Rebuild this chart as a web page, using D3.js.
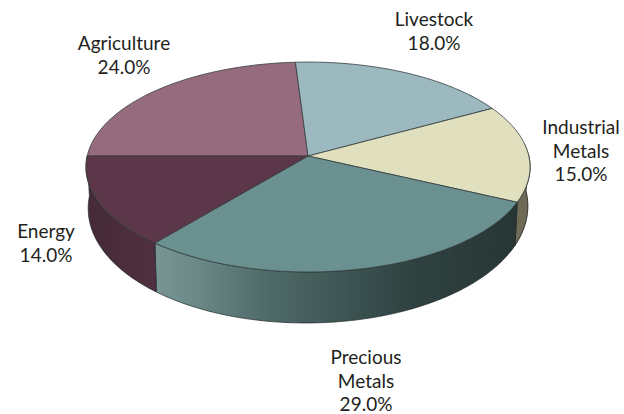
<!DOCTYPE html>
<html><head><meta charset="utf-8">
<script src="https://cdn.jsdelivr.net/npm/d3@7"></script>
<style>html,body{margin:0;padding:0;background:#fff}svg{display:block}</style></head>
<body><svg width="624" height="414"></svg>
<script>
const categories = ["Agriculture","Livestock","Industrial Metals","Precious Metals","Energy"];
const values = [24,18,15,29,14];
const labelLines = [["Agriculture"],["Livestock"],["Industrial","Metals"],["Precious","Metals"],["Energy"]];
const topColors = ["#966b7e","#9db9c0","#e0dfbe","#6b9090","#5c3749"];
const sideColors = ["#966b7e","#9db9c0","#6e6a55","#4a6462","#4b2d3c"];
const labelPos = [[124,50],[434,26],[581,134],[366,364],[46,238]];

const svg = d3.select("svg");
const cx=308, cy=156, A=220.8, B=103.8, K=0.105;
const top3d = a => { const u=Math.sin(a), v=-Math.cos(a), w=1-K*v;
  return [cx+A*u/w, cy+B*v/w]; };
const bot3d = a => { const u=Math.sin(a), v=-Math.cos(a), p=top3d(a);
  return [cx+(p[0]-cx)*0.99, p[1]+39+12*v-1.2*u]; };
const line = d3.line();
const sample = (a0,a1) => { const n=Math.max(2,Math.ceil(Math.abs(a1-a0)/0.015)); return d3.range(n+1).map(i=>a0+(a1-a0)*i/n); };

const pie = d3.pie().sort(null).value(d=>d).startAngle(-Math.PI/2).endAngle(1.5*Math.PI);
const arcs = pie(values);
const defs = svg.append("defs");
const g = defs.append("linearGradient").attr("id","pm").attr("gradientUnits","userSpaceOnUse")
  .attr("x1",155).attr("x2",520).attr("y1",0).attr("y2",0);
[[0,"#789593"],[0.12,"#6a8886"],[0.3,"#506b69"],[0.5,"#3f5755"],[0.7,"#2f4241"],[1,"#263634"]]
  .forEach(s=>g.append("stop").attr("offset",s[0]).attr("stop-color",s[1]));
const g2 = defs.append("linearGradient").attr("id","en").attr("gradientUnits","userSpaceOnUse")
  .attr("x1",86).attr("x2",157).attr("y1",0).attr("y2",0);
[[0,"#452a37"],[0.5,"#4b2d3c"],[1,"#4f3040"]].forEach(s=>g2.append("stop").attr("offset",s[0]).attr("stop-color",s[1]));

// side walls: only the front part of the rim is visible
const visStart = Math.PI/2 - 0.02, visEnd = 1.5*Math.PI + 0.10;
arcs.forEach((d,i)=>{
  const s=Math.max(d.startAngle,visStart), e=Math.min(d.endAngle,visEnd);
  if(e<=s) return;
  const ang=sample(s,e);
  const pts=ang.map(top3d).concat(ang.slice().reverse().map(bot3d));
  svg.append("path").attr("d",line(pts)+"Z")
    .attr("fill",i===3?"url(#pm)":i===4?"url(#en)":sideColors[i])
    .attr("stroke","#1f2a2a").attr("stroke-width",0.7).attr("stroke-linejoin","round");
});
// extend right wall to the silhouette
{
  const ang=sample(Math.PI/2-0.12,Math.PI/2+0.5);
  svg.insert("path",":first-child").attr("d",line(ang.map(top3d).concat(ang.slice().reverse().map(bot3d)))+"Z")
    .attr("fill",sideColors[2]).attr("stroke","#55523f").attr("stroke-width",0.6);
}
// top faces
arcs.forEach((d,i)=>{
  const pts=[[cx,cy]].concat(sample(d.startAngle,d.endAngle).map(top3d));
  svg.append("path").attr("d",line(pts)+"Z").attr("fill",topColors[i])
    .attr("stroke","#333c3c").attr("stroke-width",0.8).attr("stroke-linejoin","round");
});
// labels
const fmt=d3.format(".1f");
arcs.forEach((d,i)=>{
  const lines=labelLines[i].concat([fmt(values[i])+"%"]);
  const t=svg.append("text").attr("text-anchor","middle")
    .attr("font-family","Lato").attr("font-size",19).attr("fill","#231f20");
  lines.forEach((l,j)=>t.append("tspan").attr("x",labelPos[i][0]).attr("y",labelPos[i][1]+j*23.6).text(l));
});
</script></body></html>
